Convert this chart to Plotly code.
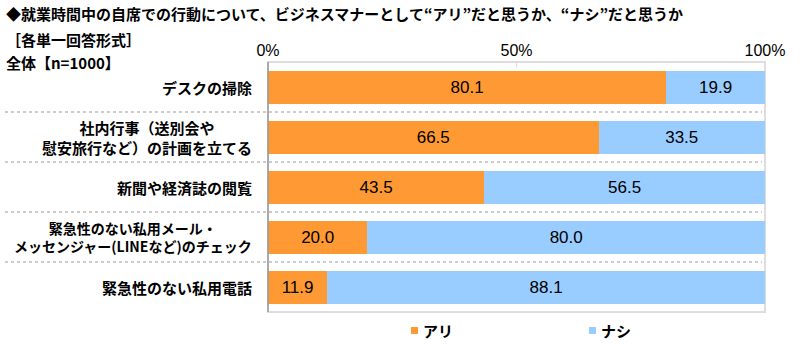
import plotly.graph_objects as go

categories = [
    "デスクの掃除",
    "社内行事（送別会や<br>慰安旅行など）の計画を立てる",
    "新聞や経済誌の閲覧",
    "緊急性のない私用メール・<br>メッセンジャー(LINEなど)のチェック",
    "緊急性のない私用電話",
]
series_names = ["アリ", "ナシ"]
ari = [80.1, 66.5, 43.5, 20.0, 11.9]
nashi = [19.9, 33.5, 56.5, 80.0, 88.1]
colors = ["#FF9933", "#99CCFF"]
tick_vals = [0, 50, 100]
tick_text = ["0%", "50%", "100%"]

title = "◆就業時間中の自席での行動について、ビジネスマナーとして“アリ”だと思うか、“ナシ”だと思うか"
sub1 = "［各単一回答形式］"
sub2 = "全体【n=1000】"

W, H = 800, 348
L, R, T, B = 268, 35, 62, 36
PW, PH = W - L - R, H - T - B


def px(x):
    return (x - L) / PW


def py(y):
    return (H - B - y) / PH


JP = "Noto Sans CJK JP"
NUM = "Liberation Sans, Arial"

ypos = list(range(len(categories)))
fig = go.Figure()
for name, vals, col in zip(series_names, [ari, nashi], colors):
    fig.add_trace(go.Bar(
        y=ypos, x=vals, name=name, orientation="h",
        marker=dict(color=col, line=dict(width=0)),
        width=0.66,
        text=[f"{v:.1f}" for v in vals],
        textposition="inside", insidetextanchor="middle",
        textfont=dict(family=NUM, size=17, color="#000000"),
        showlegend=False, hoverinfo="skip",
    ))

shapes = []
# frame
shapes.append(dict(type="rect", xref="paper", yref="paper", x0=0, x1=1, y0=0, y1=1,
                   line=dict(color="#DDDDDD", width=2), layer="below"))
shapes.append(dict(type="line", xref="paper", yref="paper", x0=0, x1=0, y0=0, y1=1,
                   line=dict(color="#999999", width=1.5)))
# separators
for i in range(len(categories) - 1):
    shapes.append(dict(type="line", xref="paper", yref="y", x0=px(5), x1=px(762),
                       y0=i + 0.5, y1=i + 0.5,
                       line=dict(color="#999999", width=1, dash="dot")))

annotations = [
    dict(text=f"<b>{title}</b>", x=px(4), y=py(13), xref="paper", yref="paper",
         xanchor="left", yanchor="middle", showarrow=False,
         font=dict(family=JP, size=15, color="#000000")),
    dict(text=f"<b>{sub1}</b>", x=px(4), y=py(40), xref="paper", yref="paper",
         xanchor="left", yanchor="middle", showarrow=False,
         font=dict(family=JP, size=15, color="#000000")),
    dict(text=f"<b>{sub2}</b>", x=px(4), y=py(62), xref="paper", yref="paper",
         xanchor="left", yanchor="middle", showarrow=False,
         font=dict(family=JP, size=15, color="#000000")),
]
# category labels (centered multi-line, right edge near axis)
for i, c in enumerate(categories):
    longest = max(len(s) for s in c.split("<br>"))
    fs = 15 if longest <= 16 else 14
    annotations.append(dict(text=f"<b>{c}</b>", x=px(254), y=i, xref="paper", yref="y",
                            xanchor="right", yanchor="middle", align="center",
                            showarrow=False,
                            font=dict(family=JP, size=fs, color="#000000")))
# legend
leg_x = [411, 589]
for name, col, lx in zip(series_names, colors, leg_x):
    shapes.append(dict(type="rect", xref="paper", yref="paper",
                       x0=px(lx), x1=px(lx + 7), y0=py(334), y1=py(327),
                       fillcolor=col, line=dict(width=0)))
    annotations.append(dict(text=f"<b>{name}</b>", x=px(lx + 10), y=py(330.5),
                            xref="paper", yref="paper", xanchor="left", yanchor="middle",
                            showarrow=False, font=dict(family=JP, size=15, color="#000000")))

fig.update_layout(
    width=W, height=H,
    margin=dict(l=L, r=R, t=T, b=B, pad=0, autoexpand=False),
    barmode="stack", bargap=0.34,
    plot_bgcolor="#FFFFFF", paper_bgcolor="#FFFFFF",
    shapes=shapes, annotations=annotations,
    showlegend=False,
    xaxis=dict(range=[0, 100], side="top", tickvals=tick_vals, ticktext=tick_text,
               showgrid=False, zeroline=False, ticks="inside", ticklen=5,
               tickcolor="#DDDDDD", ticklabelstandoff=2, automargin=False,
               tickfont=dict(family=NUM, size=16, color="#000000"), fixedrange=True),
    yaxis=dict(range=[len(categories) - 0.5, -0.5], tickvals=ypos,
               showticklabels=False, automargin=False,
               showgrid=False, zeroline=False, ticks="", fixedrange=True),
)

fig.write_html("out.html")
